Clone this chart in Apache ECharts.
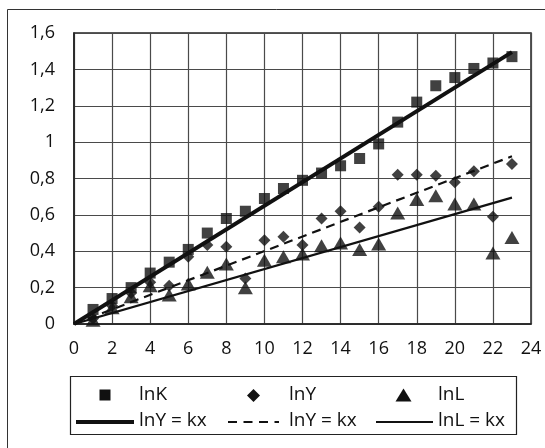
<!DOCTYPE html>
<html>
<head>
<meta charset="utf-8">
<script src="https://cdn.jsdelivr.net/npm/echarts@6/dist/echarts.min.js"></script>
<style>
  html, body { margin: 0; padding: 0; background: #fff; }
  #chart { width: 545px; height: 448px; }
</style>
</head>
<body>
<div id="chart"></div>
<script>
// Years (index) on the x axis
const years = [1, 2, 3, 4, 5, 6, 7, 8, 9, 10, 11, 12, 13, 14, 15, 16, 17, 18, 19, 20, 21, 22, 23];

// Observed series
const lnK = [0.08, 0.14, 0.20, 0.28, 0.34, 0.41, 0.50, 0.58, 0.62, 0.69, 0.745, 0.79, 0.83, 0.87, 0.91, 0.99, 1.11, 1.22, 1.31, 1.355, 1.405, 1.435, 1.47];
const lnY = [0.03, 0.10, 0.17, 0.23, 0.21, 0.37, 0.435, 0.425, 0.25, 0.46, 0.48, 0.435, 0.58, 0.62, 0.53, 0.645, 0.82, 0.82, 0.815, 0.78, 0.84, 0.59, 0.88];
const lnL = [0.02, 0.09, 0.15, 0.21, 0.16, 0.22, 0.285, 0.33, 0.20, 0.35, 0.37, 0.385, 0.43, 0.445, 0.41, 0.44, 0.61, 0.685, 0.705, 0.66, 0.66, 0.39, 0.475];

// Fitted lines through the origin (y = kx), endpoints at x = 0 and x = 23
const trendX = [0, 23];
const fitK = [0, 1.495];
const fitY = [0, 0.922];
const fitL = [0, 0.695];

// Axis ticks
const xTicks = [0, 2, 4, 6, 8, 10, 12, 14, 16, 18, 20, 22, 24];
const yTicks = [0, 0.2, 0.4, 0.6, 0.8, 1, 1.2, 1.4, 1.6];

const pair = (xs, ys) => xs.map((x, i) => [x, ys[i]]);
const FONT = '"Open Sans", "DejaVu Sans", sans-serif';

const chart = echarts.init(document.getElementById('chart'), null, { renderer: 'canvas' });

const option = {
  backgroundColor: '#ffffff',
  animation: false,
  grid: {
    left: 74, right: 14, top: 33, bottom: 124,
    show: true,
    borderColor: '#222',
    borderWidth: 1.5
  },
  xAxis: {
    type: 'value',
    min: xTicks[0],
    max: xTicks[xTicks.length - 1],
    interval: 2,
    axisLine: { show: true, onZero: false, lineStyle: { color: '#222', width: 1.5 } },
    axisTick: { show: false },
    splitLine: { show: true, lineStyle: { color: '#4a4a4a', width: 1.2 } },
    axisLabel: { color: '#111', fontFamily: FONT, fontSize: 18, margin: 16 }
  },
  yAxis: {
    type: 'value',
    min: yTicks[0],
    max: yTicks[yTicks.length - 1],
    interval: 0.2,
    axisLine: { show: true, lineStyle: { color: '#222', width: 1.5 } },
    axisTick: { show: false },
    splitLine: { show: true, lineStyle: { color: '#4a4a4a', width: 1.2 } },
    axisLabel: {
      color: '#111', fontFamily: FONT, fontSize: 18, margin: 19,
      formatter: v => String(+v.toFixed(1)).replace('.', ',')
    }
  },
  series: [
    {
      name: 'lnK', type: 'scatter', data: pair(years, lnK),
      symbol: 'rect', symbolSize: 11,
      itemStyle: { color: '#111' }, z: 3
    },
    {
      name: 'lnY', type: 'scatter', data: pair(years, lnY),
      symbol: 'diamond', symbolSize: [12, 12],
      itemStyle: { color: '#111' }, z: 3
    },
    {
      name: 'lnL', type: 'scatter', data: pair(years, lnL),
      symbol: 'triangle', symbolSize: [15, 13],
      itemStyle: { color: '#111' }, z: 3
    },
    {
      name: 'fitK', type: 'line', data: pair(trendX, fitK),
      showSymbol: false, symbol: 'none',
      lineStyle: { color: '#111', width: 4 }, z: 4
    },
    {
      name: 'fitY', type: 'line', data: pair(trendX, fitY),
      showSymbol: false, symbol: 'none',
      lineStyle: { color: '#111', width: 2.2, type: [9, 6] }, z: 4
    },
    {
      name: 'fitL', type: 'line', data: pair(trendX, fitL),
      showSymbol: false, symbol: 'none',
      lineStyle: { color: '#111', width: 2.2 }, z: 4
    }
  ],
  graphic: [
    // chart frame
    { type: 'rect', shape: { x: 7.5, y: 9.5, width: 560, height: 460 },
      style: { fill: 'none', stroke: '#333', lineWidth: 1 }, silent: true },
    // legend box
    { type: 'rect', shape: { x: 70.5, y: 376.5, width: 446, height: 58 },
      style: { fill: '#fff', stroke: '#222', lineWidth: 1.2 } },
    // row 1: markers
    { type: 'rect', shape: { x: 99.5, y: 389.5, width: 11, height: 11 }, style: { fill: '#111' } },
    { type: 'text', x: 139, y: 395, style: { text: 'lnK', font: '19px ' + FONT, fill: '#111', verticalAlign: 'middle' } },
    { type: 'polygon', shape: { points: [[253.5, 389], [260, 395.5], [253.5, 402], [247, 395.5]] }, style: { fill: '#111' } },
    { type: 'text', x: 289, y: 395, style: { text: 'lnY', font: '19px ' + FONT, fill: '#111', verticalAlign: 'middle' } },
    { type: 'polygon', shape: { points: [[403.5, 388.5], [411.5, 401.5], [395.5, 401.5]] }, style: { fill: '#111' } },
    { type: 'text', x: 438, y: 395, style: { text: 'lnL', font: '19px ' + FONT, fill: '#111', verticalAlign: 'middle' } },
    // row 2: fitted lines
    { type: 'line', shape: { x1: 76, y1: 422, x2: 134, y2: 422 }, style: { stroke: '#111', lineWidth: 4 } },
    { type: 'text', x: 139, y: 421, style: { text: 'lnY = kx', font: '19px ' + FONT, fill: '#111', verticalAlign: 'middle' } },
    { type: 'line', shape: { x1: 228, y1: 422, x2: 279, y2: 422 }, style: { stroke: '#111', lineWidth: 2.2, lineDash: [9, 6.5] } },
    { type: 'text', x: 289, y: 421, style: { text: 'lnY = kx', font: '19px ' + FONT, fill: '#111', verticalAlign: 'middle' } },
    { type: 'line', shape: { x1: 376, y1: 422, x2: 433, y2: 422 }, style: { stroke: '#111', lineWidth: 2.2 } },
    { type: 'text', x: 438, y: 421, style: { text: 'lnL = kx', font: '19px ' + FONT, fill: '#111', verticalAlign: 'middle' } }
  ]
};

chart.setOption(option);
</script>
</body>
</html>
